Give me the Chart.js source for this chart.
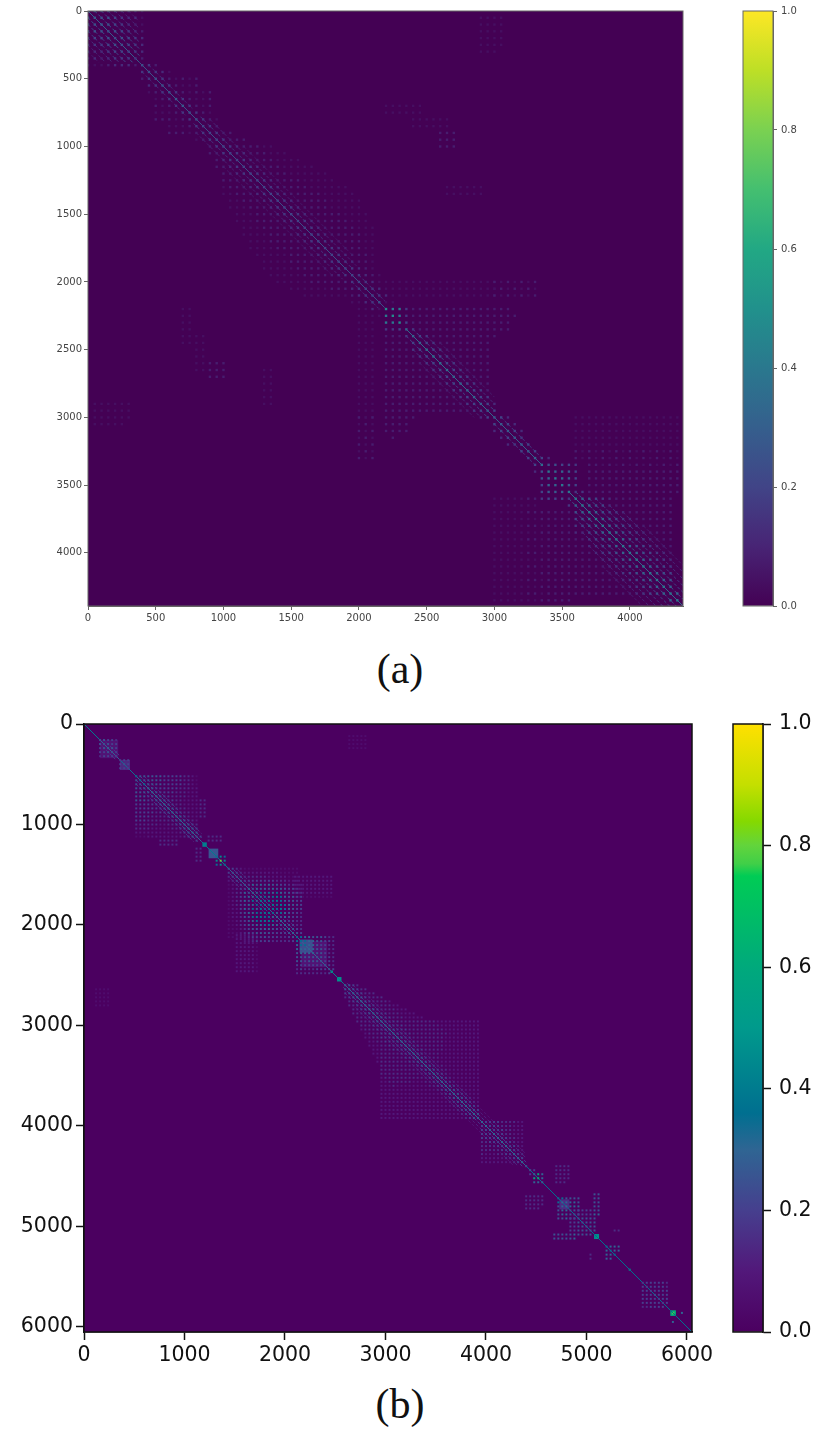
<!DOCTYPE html>
<html lang="en">
<head>
    <meta charset="UTF-8">
    <title>Similarity matrices (a) and (b)</title>
    <script src="https://cdn.jsdelivr.net/npm/chart.js"></script>
    <style>
        html, body { margin: 0; background: #fff; }
        body { position: relative; width: 829px; height: 1431px; overflow: hidden; }
        canvas { position: absolute; }
        #heatA, #barA { filter: blur(0.6px); }
        .caption { position: absolute; left: 340px; width: 120px; text-align: center; font: 42px/48px "Liberation Serif", serif; color: #111; }
    </style>
</head>
<body>
    <canvas id="heatA" width="725" height="640" style="left:0;top:0"></canvas>
    <canvas id="barA" width="104" height="640" style="left:725px;top:0"></canvas>
    <div class="caption" style="top:645px">(a)</div>
    <canvas id="heatB" width="725" height="670" style="left:0;top:700px"></canvas>
    <canvas id="barB" width="109" height="670" style="left:720px;top:700px"></canvas>
    <div class="caption" style="top:1380px">(b)</div>
    <script>
        // Matrix sizes and tick labels
        const sizeA = 4392;
        const sizeB = 6050;
        const pitchA = 50;
        const pitchB = 40;
        const ticksA = [0, 500, 1000, 1500, 2000, 2500, 3000, 3500, 4000];
        const ticksB = [0, 1000, 2000, 3000, 4000, 5000, 6000];
        const barTicks = [0, .2, .4, .6, .8, 1];

        // Upper triangle. "row levels": the first level sits on
        // the diagonal, the next ones one pitch further right.
        const rowsA = [
            '0 876654432', '50 76654331', '100 7654321', '150 665432', '200 66543', '250 6543', '300 543', '350 42',
            '400 642', '450 6431', '500 6421212', '550 642112', '600 6421212', '650 742112', '700 74212', '750 6421',
            '800 6421', '850 542', '900 5422', '950 54222', '1000 54322211', '1050 543222111', '1100 5432221111',
            '1150 54322211111', '1200 543222111111', '1250 543222211111', '1300 5432222111111', '1350 5432222211111',
            '1400 5432222211111', '1450 543222211111', '1500 543222221111', '1550 54322222111', '1600 54322222111',
            '1650 5432222211', '1700 543222211', '1750 54322211', '1800 5432221', '1850 543221', '1900 54321',
            '1950 54321', '2000 543111111111111111111', '2050 54311111111111111111', '2100 5431111111111111111',
            '2150 611', '2200 caa4222222222222222', '2250 ca42222222222222222', '2300 c5222222222222222',
            '2350 8422222222222222', '2400 8542222222222', '2450 85422222222', '2500 9542222222', '2550 954222222',
            '2600 95422222', '2650 9542222', '2700 854222', '2750 85422', '2800 8542', '2850 854', '2900 753', '2950 75',
            '3000 753', '3050 753', '3100 753', '3150 74', '3200 75', '3250 75', '3300 853', '3350 966554',
            '3400 a8875', '3450 a875', '3500 a75', '3550 a4422222222222222', '3600 a86543222222222', '3650 a8653222222222',
            '3700 a865432222222', '3750 a86543222222', '3800 a8654322222', '3850 a865432222', '3900 a86543222',
            '3950 a8654322', '4000 a865432', '4050 a86543', '4100 a8654', '4150 a865', '4200 a86', '4250 a8', '4300 a8', '4350 a'
        ];
        // Clusters away from the diagonal: "row firstColumn levels"
        const farA = [
            '50 2900 1111', '100 2900 1111', '150 2900 1111', '200 2900 1111', '250 2900 1111', '300 2900 111',
            '700 2200 111111', '750 2200 111111', '800 2400 111111', '850 2400 111111',
            '900 2600 222', '950 2600 222', '1000 2600 222', '1300 2650 111111', '1350 2650 111111',
            '2000 3000 2121212', '2050 3000 1212121', '2100 3000 2121212',
            '3000 3600 1111111111111111', '3050 3600 1111111111111111', '3100 3600 1111111111111111',
            '3150 3600 1111111111111111', '3200 3600 1111111111111111', '3250 3600 2121212121212121',
            '3300 3600 2121212121212121', '3350 3700 22121212121212', '3400 3700 22222222222222',
            '3450 3700 22222222222222', '3500 3700 22222222222222'
        ];
        // Continuous diagonal stripes: "from to offset value"
        const stripesA = [
            '0 380 0 .3', '0 330 50 .26', '0 280 100 .2', '0 230 150 .17', '0 180 200 .13', '0 130 250 .1', '0 80 300 .07',
            '380 760 0 .26', '400 720 50 .11', '760 1950 0 .24', '780 1900 50 .14', '800 1880 100 .09', '1000 1800 150 .06',
            '1950 2190 0 .24', '1950 2150 50 .14', '2350 3000 0 .34', '2350 2950 50 .2', '2400 2900 100 .13', '2450 2850 150 .07',
            '3000 3350 0 .3', '3000 3300 50 .17', '3550 4392 0 .34', '3550 4342 50 .27', '3600 4292 100 .22', '3600 4242 150 .17',
            '3650 4192 200 .14', '3700 4142 250 .11', '3800 4092 300 .08'
        ];

        const rowsB = [
            '160 55443', '200 5544', '240 654', '280 54', '320 4', '360 444', '400 54', '440 4',
            '520 7555555444443321', '560 755555444443321', '600 75555444443321', '640 6544444433322', '680 654444333222',
            '720 65443333222', '760 6544332222', '800 654332222', '840 65433222', '880 6543322', '920 654322', '960 65432',
            '1000 6543', '1040 654', '1080 65', '1120 54', '1320 797', '1360 g9', '1400 7',
            '1440 543211111111111111', '1480 54322222222211111', '1520 5433333322222111', '1560 544444444333222',
            '1600 546565655443322', '1640 65656565554432', '1680 6676767655443', '1720 767678765544', '1760 87878765544',
            '1800 8787876554', '1840 787876544', '1880 76765443', '1920 6565443', '1960 654433', '2000 65433', '2040 6543', '2080 654',
            '2120 7766555433', '2160 776655443', '2200 76654433', '2240 6655433', '2280 655433', '2320 55443',
            '2360 5443', '2400 543', '2440 54',
            '2600 6543', '2640 65433', '2680 654333', '2720 6543333', '2760 65433332', '2800 654333322',
            '2840 6543333222', '2880 65443332222', '2920 654433322222', '2960 6544433333333322222222222', '3000 654443333333332222222222',
            '3040 65444333333333222222222', '3080 6544433333333322222222', '3120 654433333333222222222', '3160 65443333333222222222',
            '3200 6544333333222222222', '3240 654433333222222222', '3280 65433332222222222', '3320 6543332222222222', '3360 654332222222222',
            '3400 65433222222222', '3440 6543322222222', '3480 654322222222', '3520 65432222222', '3560 6543222222', '3600 654322222',
            '3640 65432222', '3680 6543222', '3720 654322', '3760 65432', '3800 6543', '3840 654', '3880 65', '3920 6',
            '3960 64444333322', '4000 6444333222', '4040 644433222', '4080 64433222', '4120 6443322', '4160 644322',
            '4200 64432', '4240 6432', '4280 643', '4320 64', '4360 6', '4400 5', '4440 54', '4480 6c6', '4520 d6', '4560 6',
            '4720 775555', '4760 66665', '4800 6666', '4840 555', '4880 55', '4920 55555', '4960 5555', '5000 555', '5040 55',
            '5200 7666', '5240 766', '5280 7',
            '5560 4444443', '5600 444443', '5640 44444', '5680 5444', '5720 444', '5760 44'
        ];
        const farB = [
            '120 2640 11111', '160 2640 11111', '200 2640 11111', '240 2640 11111',
            '760 1160 33', '800 1160 33', '840 1160 33', '880 1160 33', '920 1160 33',
            '1120 1240 3333', '1160 1240 3333',
            '1520 2100 2222222222', '1560 2100 2222222222', '1600 2100 2222222222', '1640 2100 2222222222',
            '1680 2100 2222222222', '1720 2100 1111111111',
            '4400 4700 3333', '4440 4700 3333', '4480 4700 3333', '4520 4700 3333', '4560 4700 333',
            '4680 5080 55', '4720 5080 55', '4760 5080 55', '4800 5080 55', '4840 5080 55', '4880 5080 66',
            '4840 4920 4444', '4880 4920 4444', '5040 5280 33', '5860 5950 6'
        ];
        const stripesB = [
            '0 150 0 .4', '150 350 0 .3', '150 310 40 .18', '350 520 0 .34', '520 1170 0 .3', '520 1130 40 .22', '520 1090 80 .16',
            '1170 1450 0 .4', '1450 2100 0 .28', '1450 2060 40 .18', '1450 2020 80 .12', '2100 2450 0 .3', '2450 2580 0 .42',
            '2580 4400 0 .3', '2580 4360 40 .18', '2600 4320 80 .12', '2700 4280 120 .08', '4400 5565 0 .36', '5565 6050 0 .36'
        ];
        // Solid looking blocks on the diagonal: "centre halfSize value"
        const patchesA = [];
        const patchesB = [
            '250 90 .08', '408 50 .14', '1200 22 .42', '1288 48 .26', '2290 130 .08', '2210 65 .24', '2465 12 .5', '2540 22 .48',
            '4780 50 .15', '5100 25 .45', '5110 12 .55', '5430 10 .45', '5862 28 .6', '5862 12 .78'
        ];

        // Colour bars
        const stopValuesA = [0, .1, .2, .3, .4, .5, .6, .7, .8, .9, 1];
        const stopColorsA = ['#440154', '#482475', '#414487', '#355f8d', '#2a788e', '#21918c', '#22a884', '#44bf70', '#7ad151', '#bddf26', '#fde725'];
        const stopValuesB = [0, .1, .2, .3, .36, .5, .6, .75, .77, .8, .84, .9, 1];
        const stopColorsB = ['#4b0060', '#52187a', '#463f8e', '#2f6593', '#006f90', '#009a8c', '#00a97c', '#00cc55', '#40cf48', '#62d43c', '#85d900', '#c4df00', '#ffe000'];

        function hexToRgb(hex) {
            return [1, 3, 5].map(i => parseInt(hex.slice(i, i + 2), 16));
        }

        function colourFor(value, stopValues, stopColors) {
            let i = 0;
            while (i < stopValues.length - 2 && value > stopValues[i + 1]) i++;
            const t = Math.min(1, (value - stopValues[i]) / (stopValues[i + 1] - stopValues[i]));
            const a = hexToRgb(stopColors[i]), b = hexToRgb(stopColors[i + 1]);
            return `rgb(${a.map((c, k) => Math.round(c + (b[k] - c) * t)).join(',')})`;
        }

        // Expand the row strings to points, mirrored over the diagonal
        function cellsFrom(rows, far, pitch, levelStep) {
            const cells = [];
            const add = (row, col, ch) => {
                const v = parseInt(ch, 36) * levelStep;
                cells.push({x: col, y: row, v});
                if (col !== row) cells.push({x: row, y: col, v});
            };
            rows.forEach(r => {
                const [row, levels] = r.split(' ');
                [...levels].forEach((ch, k) => add(+row, +row + k * pitch, ch));
            });
            far.forEach(r => {
                const [row, col, levels] = r.split(' ');
                [...levels].forEach((ch, k) => add(+row, +col + k * pitch, ch));
            });
            return cells;
        }

        // Side stripes are dotted in the picture, only the main diagonal is solid
        function stripeSets(stripes, stops, colors, lineWidth) {
            const sets = [];
            stripes.forEach(s => {
                const [from, to, off, v] = s.split(' ').map(Number);
                const colour = colourFor(v, stops, colors);
                const make = data => ({
                    type: 'line', data, borderColor: colour, borderWidth: lineWidth,
                    borderDash: off ? [3, 2] : [], pointRadius: 0, order: 2
                });
                sets.push(make([{x: from + off, y: from}, {x: to + off, y: to}]));
                if (off) sets.push(make([{x: from, y: from + off}, {x: to, y: to + off}]));
            });
            return sets;
        }

        // Frame on all four sides, the axes only give two of them
        const frame = style => ({
            id: 'frame',
            beforeDatasetsDraw(chart) {
                if (!style.fill) return;
                const a = chart.chartArea;
                chart.ctx.save();
                chart.ctx.fillStyle = style.fill;
                chart.ctx.fillRect(a.left, a.top, a.width, a.height);
                chart.ctx.restore();
            },
            afterDraw(chart) {
                const a = chart.chartArea;
                chart.ctx.save();
                chart.ctx.strokeStyle = style.color;
                chart.ctx.lineWidth = style.width;
                chart.ctx.strokeRect(a.left, a.top, a.width, a.height);
                chart.ctx.restore();
            }
        });

        function heatmap(id, o) {
            const cells = cellsFrom(o.rows, o.far, o.pitch, o.levelStep);
            const patches = o.patches.map(p => p.split(' ').map(Number));
            const axis = (extra) => ({
                type: 'linear', min: 0, max: o.size,
                afterBuildTicks: s => { s.ticks = o.ticks.map(value => ({value})); },
                ticks: {
                    callback: v => String(v), autoSkip: false, maxRotation: 0,
                    color: o.textColor, padding: o.tickPad, font: {family: 'DejaVu Sans', size: o.fontSize}
                },
                grid: {drawOnChartArea: false, drawTicks: true, tickLength: o.tickLength, tickColor: o.lineColor, tickWidth: o.tickWidth},
                border: {display: true, color: o.lineColor, width: o.lineWidth},
                ...extra
            });
            return new Chart(document.getElementById(id), {
                type: 'scatter',
                data: {
                    datasets: [
                        {
                            data: cells,
                            pointStyle: 'rect',
                            pointRadius: o.dotRadius,
                            pointBorderWidth: 0,
                            pointBackgroundColor: cells.map(c => colourFor(c.v, o.stops, o.colors)),
                            order: 1
                        },
                        ...stripeSets(o.stripes, o.stops, o.colors, o.stripeWidth),
                        {
                            data: patches.map(p => ({x: p[0], y: p[0]})),
                            pointStyle: 'rect',
                            pointBorderWidth: 0,
                            // rect side is 2 * radius * sqrt(1/2)
                            pointRadius: ctx => {
                                const p = patches[ctx.dataIndex];
                                if (!p) return 0;
                                const s = ctx.chart.scales.x;
                                return (s.getPixelForValue(p[1]) - s.getPixelForValue(0)) * Math.SQRT2;
                            },
                            pointBackgroundColor: patches.map(p => colourFor(p[2], o.stops, o.colors)),
                            order: 3
                        }
                    ]
                },
                options: {
                    responsive: false,
                    animation: false,
                    layout: {padding: o.padding},
                    plugins: {legend: {display: false}, tooltip: {enabled: false}},
                    scales: {
                        x: axis({position: 'bottom', afterFit: s => { s.height = o.axisHeight; }}),
                        y: axis({reverse: true, afterFit: s => { s.width = o.axisWidth; }})
                    }
                },
                plugins: [frame({fill: o.colors[0], color: o.lineColor, width: o.lineWidth})]
            });
        }

        function colourBar(id, o) {
            return new Chart(document.getElementById(id), {
                type: 'bar',
                data: {
                    labels: [''],
                    datasets: [{
                        data: [[0, 1]],
                        barPercentage: 1,
                        categoryPercentage: 1,
                        backgroundColor: ctx => {
                            const a = ctx.chart.chartArea;
                            if (!a) return o.colors[0];
                            const g = ctx.chart.ctx.createLinearGradient(0, a.bottom, 0, a.top);
                            o.stops.forEach((v, i) => g.addColorStop(v, o.colors[i]));
                            return g;
                        }
                    }]
                },
                options: {
                    responsive: false,
                    animation: false,
                    layout: {padding: o.padding},
                    plugins: {legend: {display: false}, tooltip: {enabled: false}},
                    scales: {
                        x: {display: false},
                        y: {
                            position: 'right', min: 0, max: 1,
                            afterBuildTicks: s => { s.ticks = barTicks.map(value => ({value})); },
                            afterFit: s => { s.width = o.axisWidth; },
                            ticks: {
                                callback: v => v.toFixed(1), color: o.textColor, padding: o.tickPad,
                                font: {family: 'DejaVu Sans', size: o.fontSize}
                            },
                            grid: {drawOnChartArea: false, drawTicks: true, tickLength: o.tickLength, tickColor: o.lineColor, tickWidth: o.tickWidth},
                            border: {display: true, color: o.lineColor, width: o.lineWidth}
                        }
                    }
                },
                plugins: [frame({color: o.lineColor, width: o.lineWidth})]
            });
        }

        heatmap('heatA', {
            rows: rowsA, far: farA, stripes: stripesA, patches: patchesA, pitch: pitchA, size: sizeA, ticks: ticksA, levelStep: 0.04,
            stops: stopValuesA, colors: stopColorsA, dotRadius: 1.7, stripeWidth: 1,
            textColor: '#444', lineColor: '#666', lineWidth: 1, tickWidth: 1, tickLength: 4, tickPad: 2, fontSize: 10,
            padding: {top: 11, right: 42}, axisHeight: 34, axisWidth: 88
        });
        colourBar('barA', {
            stops: stopValuesA, colors: stopColorsA,
            textColor: '#444', lineColor: '#666', lineWidth: 1, tickWidth: 1, tickLength: 4, tickPad: 4, fontSize: 10,
            padding: {left: 18, top: 11, bottom: 34}, axisWidth: 56
        });
        heatmap('heatB', {
            rows: rowsB, far: farB, stripes: stripesB, patches: patchesB, pitch: pitchB, size: sizeB, ticks: ticksB, levelStep: 0.05,
            stops: stopValuesB, colors: stopColorsB, dotRadius: 1.4, stripeWidth: 1,
            textColor: '#111', lineColor: '#111', lineWidth: 1.5, tickWidth: 1.5, tickLength: 8, tickPad: 3, fontSize: 20.5,
            padding: {top: 24, right: 33}, axisHeight: 38, axisWidth: 84
        });
        colourBar('barB', {
            stops: stopValuesB, colors: stopColorsB,
            textColor: '#111', lineColor: '#111', lineWidth: 1.5, tickWidth: 1.5, tickLength: 8, tickPad: 8, fontSize: 20.5,
            padding: {left: 13, top: 24, bottom: 38}, axisWidth: 66
        });
    </script>
</body>
</html>
